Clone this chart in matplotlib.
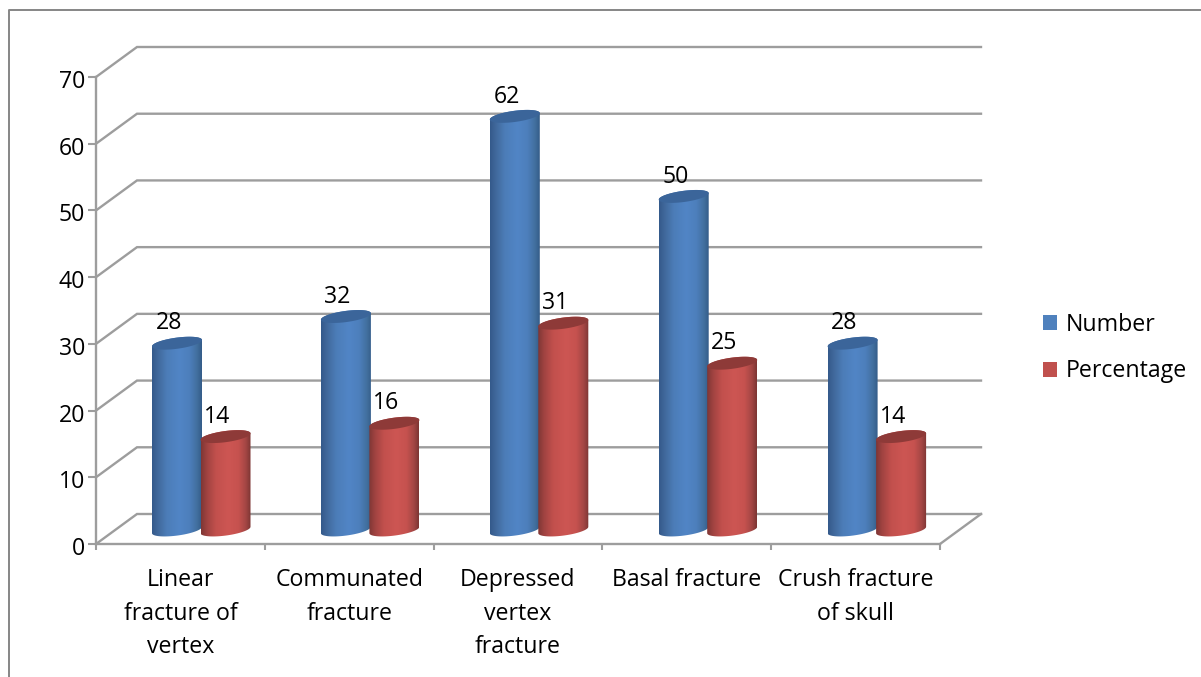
import numpy as np
import matplotlib
matplotlib.use('Agg')
import matplotlib.pyplot as plt
from matplotlib.colors import LinearSegmentedColormap
from matplotlib.lines import Line2D
from matplotlib.patches import PathPatch, Patch
from matplotlib.path import Path
from matplotlib.transforms import ScaledTranslation

plt.rcParams['font.family'] = ['Open Sans', 'DejaVu Sans']

categories = ['Linear\nfracture of\nvertex', 'Communated\nfracture', 'Depressed\nvertex\nfracture',
              'Basal fracture', 'Crush fracture\nof skull']
number = [28, 32, 62, 50, 28]
percentage = [14, 16, 31, 25, 14]
yticks = [0, 10, 20, 30, 40, 50, 60, 70]

W, H = 1201, 677
GRID = '#9d9d9d'
FS = 16.7
fig = plt.figure(figsize=(W / 100, H / 100), dpi=100)
ax = fig.add_axes([96 / W, 1 - 544 / H, 844 / W, 467 / H])
ax.set_xlim(0, 5)
ax.set_ylim(0, 70)

# px to data units
px = 5 / 844
py = 70 / 467
dx = 41 * px
dy = 30 * py

# walls and floor
for v in yticks:
    ax.plot([0, dx, 5 + dx], [v, v + dy, v + dy], c=GRID, lw=1.7, clip_on=False, zorder=1,
            solid_joinstyle='miter')
ax.plot([5, 5 + dx], [0, dy], c=GRID, lw=1.7, clip_on=False, zorder=1)

blue = LinearSegmentedColormap.from_list('b', [(0, '#34598a'), (0.12, '#41699c'), (0.3, '#4c7db8'),
                                               (0.55, '#5185c6'), (0.75, '#4d7fbc'), (0.9, '#42709f'),
                                               (1, '#345c88')])
red = LinearSegmentedColormap.from_list('r', [(0, '#7e3634'), (0.12, '#a04341'), (0.3, '#c2504d'),
                                              (0.55, '#cd5653'), (0.75, '#c6524f'), (0.9, '#a34644'),
                                              (1, '#7c3533')])
grad = np.linspace(0, 1, 256).reshape(1, -1)


def cylinder(cx, v, cmap, topcolor):
    a = 25 * px
    tilt = 3.2 * py
    b = 5.6 * py
    base = 2.1
    t = np.linspace(0, np.pi, 60)
    # side: top back edge left to right, bottom front edge right to left
    xb = cx - a * np.cos(t)
    yb = base - tilt * np.cos(t) - b * np.sin(t)
    xt = cx + a * np.cos(t)
    yt = base + v + tilt * np.cos(t) + b * np.sin(t)
    verts = np.r_[np.c_[xb, yb], np.c_[xt, yt], [[xb[0], yb[0]]]]
    clip = PathPatch(Path(verts), transform=ax.transData, fc='none', ec='none')
    ax.add_patch(clip)
    im = ax.imshow(grad, cmap=cmap, extent=[cx - a, cx + a, base - 2 * b, base + v + 2 * b],
                   aspect='auto', zorder=3, interpolation='bilinear')
    im.set_clip_path(clip)
    s = np.linspace(0, 2 * np.pi, 100)
    ax.fill(cx + a * np.cos(s), base + v + tilt * np.cos(s) + b * np.sin(s), fc=topcolor, ec='none', zorder=3)
    ax.annotate(str(v), (cx, base + v), xytext=(-6, 14.3), textcoords='offset points',
                ha='center', va='center', fontsize=FS, color='black', zorder=5)


for i in range(len(categories)):
    off = (81 + 168.9 * i) * px - i
    cylinder(i + off, number[i], blue, '#3b659a')
    cylinder(i + off + 48.5 * px, percentage[i], red, '#8e3a38')

ax.set_xlim(0, 5)
ax.set_ylim(0, 70)

for s in ['top', 'right']:
    ax.spines[s].set_visible(False)
for s in ['left', 'bottom']:
    ax.spines[s].set_color(GRID)
    ax.spines[s].set_linewidth(1.7)
    ax.spines[s].set_zorder(2)

ax.set_yticks(yticks)
ax.tick_params(axis='y', length=6, width=1.5, color=GRID, labelsize=FS, pad=2)
for lab in ax.get_yticklabels():
    lab.set_transform(lab.get_transform() + ScaledTranslation(0, -2 / 100, fig.dpi_scale_trans))
ax.set_xticks(range(6))
ax.set_xticklabels([])
ax.tick_params(axis='x', which='major', length=4, width=1.5, color=GRID)
ax.set_xticks(np.arange(5) + 0.5, minor=True)
ax.set_xticklabels(categories, minor=True, fontsize=FS, linespacing=1.55)
ax.tick_params(axis='x', which='minor', length=0, pad=17)

handles = [Patch(fc='#4f81bd', label='Number'), Patch(fc='#c0504d', label='Percentage')]
fig.legend(handles=handles, loc='center left', bbox_to_anchor=(1036 / W, 1 - 348 / H), frameon=False,
           fontsize=FS, handlelength=0.62, handleheight=0.62, handletextpad=0.36, labelspacing=0.99,
           borderpad=0.3, borderaxespad=0)

# outer chart border
fig.add_artist(Line2D([9 / W, 9 / W, 1], [0, 1 - 10 / H, 1 - 10 / H], c='#868686', lw=1.4))

fig.savefig('out.png', dpi=100)
